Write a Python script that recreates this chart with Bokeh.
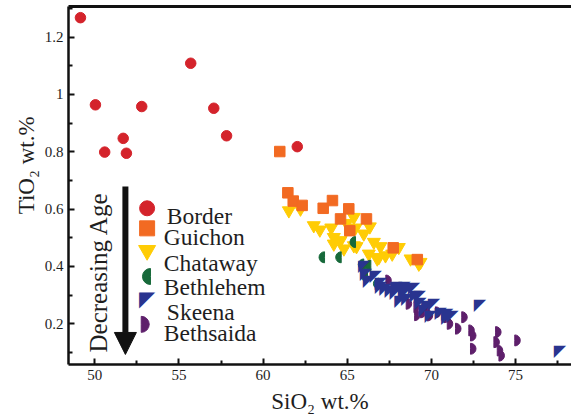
import math
from bokeh.plotting import figure
from bokeh.models import (Range1d, FixedTicker, LinearAxis, Label, Arrow, NormalHead,
                          CustomJSTickFormatter)
from bokeh.core.properties import value
from bokeh.embed import file_html
from bokeh.resources import INLINE

# ---------------- data ----------------
border_x = [49.15, 50.04, 50.59, 51.69, 51.88, 52.79, 55.70, 57.07, 57.83, 62.03]
border_y = [1.268, 0.964, 0.799, 0.847, 0.795, 0.958, 1.109, 0.952, 0.856, 0.818]

guichon_x = [60.99, 61.47, 61.79, 62.32, 63.57, 64.12, 64.60, 65.09, 65.15, 66.14, 67.73, 69.16]
guichon_y = [0.801, 0.657, 0.628, 0.613, 0.603, 0.630, 0.566, 0.601, 0.525, 0.566, 0.465, 0.424]

chataway_x = [61.53, 62.22, 63.01, 63.37, 64.05, 64.20, 64.60, 64.80, 64.96, 65.39, 65.49, 65.55,
              65.98, 66.34, 66.58, 66.28, 66.97, 66.78, 67.27, 68.06, 67.67, 68.76, 69.35, 69.25,
              66.88, 65.39, 64.20]
chataway_y = [0.595, 0.601, 0.543, 0.528, 0.535, 0.502, 0.491, 0.462, 0.551, 0.572, 0.535, 0.470,
              0.514, 0.539, 0.485, 0.444, 0.470, 0.427, 0.438, 0.467, 0.444, 0.427, 0.415, 0.409,
              0.432, 0.473, 0.479]

bethlehem_x = [63.65, 64.64, 65.49, 65.98, 66.40, 66.10, 66.20, 66.88]
bethlehem_y = [0.432, 0.432, 0.485, 0.407, 0.403, 0.386, 0.363, 0.340]

skeena_x = [66.00, 66.10, 66.28, 66.68, 66.98, 67.27, 67.57, 67.87, 68.06, 68.36, 68.66, 68.96,
            69.06, 68.56, 68.16, 69.35, 69.75, 70.14, 69.95, 70.54, 70.94, 70.94, 71.24, 72.88,
            77.63, 67.00, 67.90, 68.40, 69.30, 69.60]
skeena_y = [0.403, 0.374, 0.351, 0.368, 0.345, 0.322, 0.316, 0.310, 0.328, 0.305, 0.322, 0.328,
            0.299, 0.287, 0.281, 0.275, 0.264, 0.270, 0.229, 0.240, 0.223, 0.235, 0.229, 0.267,
            0.107, 0.330, 0.330, 0.330, 0.300, 0.250]

bethsaida_x = [67.29, 68.96, 69.35, 69.55, 69.75, 70.24, 70.74, 70.94, 71.43, 71.80, 72.22, 72.32,
               72.32, 73.71, 73.81, 73.91, 74.01, 74.95, 68.50, 69.00]
bethsaida_y = [0.351, 0.258, 0.240, 0.250, 0.229, 0.240, 0.223, 0.200, 0.183, 0.223, 0.177, 0.159,
               0.113, 0.136, 0.171, 0.107, 0.089, 0.142, 0.270, 0.230]

series_names = ["Border", "Guichon", "Chataway", "Bethlehem", "Skeena", "Bethsaida"]
x_ticks = [50, 55, 60, 65, 70, 75]
x_minor = [47.5, 52.5, 57.5, 62.5, 67.5, 72.5, 77.5]
y_ticks = [0.2, 0.4, 0.6, 0.8, 1.0, 1.2]
y_minor = [0.1, 0.3, 0.5, 0.7, 0.9, 1.1, 1.3]

# ---------------- styles ----------------
RED = "#d4232b"
ORANGE = "#f26a22"
YELLOW = "#ffcc05"
GREEN = "#17693a"
BLUE = "#29348f"
PURPLE = "#5e1f6b"
SERIF = "Liberation Serif"
TXT = "#1e1e1e"

p = figure(width=571, height=420, output_backend="svg", toolbar_location=None,
           x_range=Range1d(48.44, 78.32), y_range=Range1d(0.058, 1.307),
           min_border_left=68, min_border_right=0, min_border_top=6, min_border_bottom=56)
p.grid.visible = False
p.outline_line_color = None
p.background_fill_color = "white"
p.border_fill_color = "white"

for ax in (p.xaxis[0], p.yaxis[0]):
    ax.axis_line_width = 2.5
    ax.axis_line_color = "#111111"
    ax.major_tick_in = 6
    ax.major_tick_out = 0
    ax.minor_tick_in = 4
    ax.minor_tick_out = 0
    ax.major_tick_line_width = 2
    ax.minor_tick_line_width = 2
    ax.major_tick_line_color = "#111111"
    ax.minor_tick_line_color = "#111111"
    ax.major_label_text_font = SERIF
    ax.major_label_text_font_size = "15px"
    ax.major_label_text_color = TXT
    ax.major_label_standoff = 5
    ax.axis_label_text_font = SERIF
    ax.axis_label_text_font_style = "normal"
    ax.axis_label_text_font_size = "23px"
    ax.axis_label_text_color = TXT

p.xaxis[0].ticker = FixedTicker(ticks=x_ticks, minor_ticks=x_minor)
p.yaxis[0].ticker = FixedTicker(ticks=y_ticks, minor_ticks=y_minor)
p.yaxis[0].formatter = CustomJSTickFormatter(code="return tick.toFixed(1).replace(/\\.0$/, '');")
p.xaxis[0].axis_label = "SiO\u2082 wt.%"
p.xaxis[0].axis_label_standoff = 6
# leading no-break spaces shift the rotated title upward along the axis
p.yaxis[0].axis_label = "\u00A0" * 7 + "TiO\u2082 wt.%"
p.yaxis[0].axis_label_standoff = 3

top_axis = LinearAxis(ticker=FixedTicker(ticks=[]), major_label_text_font_size="0px",
                      major_tick_line_color=None, minor_tick_line_color=None,
                      axis_line_width=3, axis_line_color="#111111",
                      major_label_standoff=0)
p.add_layout(top_axis, "above")

# ---------------- data marks ----------------
p.scatter(chataway_x, chataway_y, marker="inverted_triangle", size=13, color=YELLOW)
p.scatter(guichon_x, guichon_y, marker="square", size=10.5, color=ORANGE)
p.scatter(border_x, border_y, marker="circle", size=10.5, color=RED)
p.wedge(bethlehem_x, bethlehem_y, radius=5.5, radius_units="screen",
        start_angle=math.pi / 2, end_angle=3 * math.pi / 2, color=GREEN)
p.wedge(bethsaida_x, bethsaida_y, radius=5.5, radius_units="screen",
        start_angle=-math.pi / 2, end_angle=math.pi / 2, color=PURPLE)
p.text(skeena_x, skeena_y, text=["\u25E4"] * len(skeena_x), text_font=value("DejaVu Sans"),
       text_font_size="16px", text_align="center", text_baseline="middle", text_color=BLUE)

# ---------------- legend ----------------
lx = 53.11
leg_marker_y = [0.603, 0.533, 0.456, 0.365, 0.287, 0.198]
leg_text_x = [54.28, 54.10, 54.10, 54.10, 54.28, 54.10]
leg_text_y = [0.575, 0.502, 0.411, 0.328, 0.240, 0.167]

p.scatter([lx], [leg_marker_y[0]], marker="circle", size=15, color=RED)
p.scatter([lx], [leg_marker_y[1]], marker="square", size=15, color=ORANGE)
p.scatter([lx], [leg_marker_y[2]], marker="inverted_triangle", size=17, color=YELLOW)
p.wedge([lx + 0.2], [leg_marker_y[3]], radius=8, radius_units="screen",
        start_angle=math.pi / 2, end_angle=3 * math.pi / 2, color=GREEN)
p.text([lx], [leg_marker_y[4]], text=["\u25E4"], text_font=value("DejaVu Sans"),
       text_font_size="21px", text_align="center", text_baseline="middle", text_color=BLUE)
p.wedge([lx - 0.35], [leg_marker_y[5]], radius=8, radius_units="screen",
        start_angle=-math.pi / 2, end_angle=math.pi / 2, color=PURPLE)

for name, tx, ty in zip(series_names, leg_text_x, leg_text_y):
    p.add_layout(Label(x=tx, y=ty, text=name, text_align="left", text_baseline="alphabetic",
                       text_font=SERIF, text_font_size="23.5px", text_color=TXT))

p.add_layout(Label(x=50.25, y=0.100, text="Decreasing Age", angle=math.pi / 2,
                   text_align="left", text_baseline="alphabetic", text_font=SERIF,
                   text_font_size="25px", text_color=TXT))
p.add_layout(Arrow(end=NormalHead(size=22, fill_color="#111111", line_color="#111111"),
                   x_start=51.82, y_start=0.679, x_end=51.82, y_end=0.093,
                   line_width=6, line_color="#111111"))

open("out.html", "w").write(file_html(p, INLINE))
